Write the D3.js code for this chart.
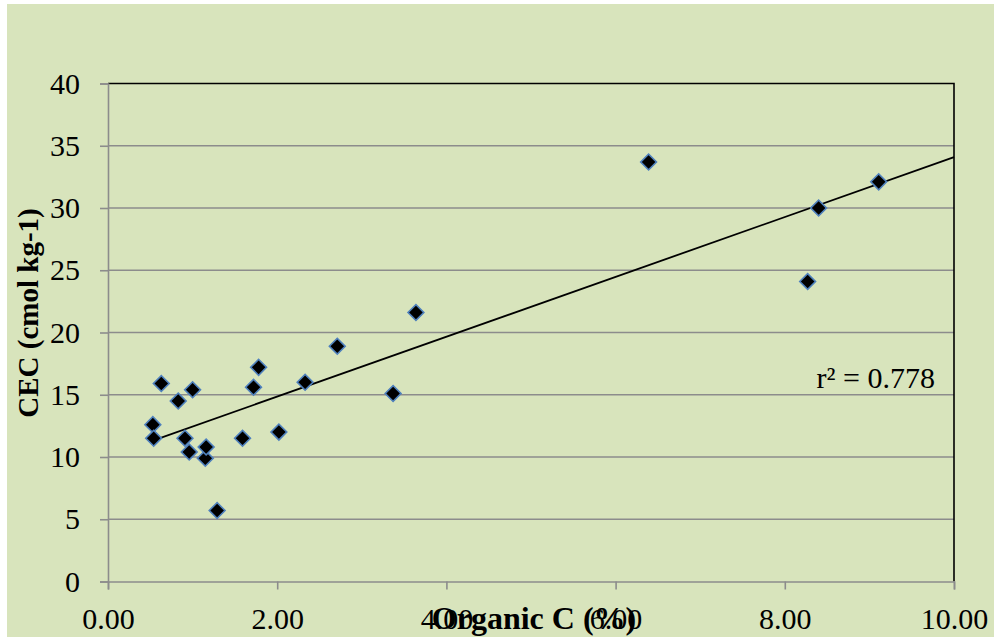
<!DOCTYPE html>
<html>
<head>
<meta charset="utf-8">
<script src="https://cdn.jsdelivr.net/npm/d3@7"></script>
<style>
  body { margin: 0; background: #fff; }
  svg { display: block; font-family: "Liberation Serif", "Times New Roman", serif; }
  .grid line { stroke: #8c8c8c; stroke-width: 1.6; }
  .axis path, .axis line { stroke: #8c8c8c; stroke-width: 1.6; }
  .axis text { font-family: "Liberation Serif", "Times New Roman", serif; font-size: 30px; fill: #000; }
</style>
</head>
<body>
<svg id="chart" width="994" height="637"></svg>
<script>
// Organic C (%) vs CEC (cmol kg-1)
const organicC = [0.53, 0.54, 0.63, 0.83, 0.91, 0.96, 1.00, 1.15, 1.16, 1.29, 1.59,
  1.72, 1.78, 2.02, 2.33, 2.71, 3.37, 3.64, 6.39, 8.27, 8.40, 9.11];
const cec = [12.6, 11.5, 15.9, 14.5, 11.5, 10.4, 15.4, 9.9, 10.8, 5.7, 11.5,
  15.6, 17.2, 12.0, 16.0, 18.9, 15.1, 21.6, 33.7, 24.1, 30.0, 32.1];
const xTicks = [0, 2, 4, 6, 8, 10];
const yTicks = [0, 5, 10, 15, 20, 25, 30, 35, 40];
const rSquaredLabel = "r² = 0.778";

const svg = d3.select("#chart");
const plotLeft = 108, plotRight = 954, plotTop = 83.5, plotBottom = 581.5;

const x = d3.scaleLinear().domain([0, 10]).range([plotLeft, plotRight]);
const y = d3.scaleLinear().domain([0, 40]).range([plotBottom, plotTop]);

// chart area background
svg.append("rect")
  .attr("x", 7).attr("y", 4)
  .attr("width", 987).attr("height", 633)
  .attr("fill", "#d8e4bc");

// horizontal gridlines
svg.append("g")
  .attr("class", "grid")
  .selectAll("line")
  .data(yTicks.filter((d) => d > 0 && d < 40))
  .join("line")
  .attr("x1", plotLeft).attr("x2", plotRight)
  .attr("y1", (d) => y(d)).attr("y2", (d) => y(d));

// plot area border (top and right are black)
svg.append("path")
  .attr("d", `M${plotLeft},${plotTop}H${plotRight}V${plotBottom}`)
  .attr("fill", "none")
  .attr("stroke", "#000")
  .attr("stroke-width", 1.6);

const xAxis = svg.append("g")
  .attr("class", "axis")
  .attr("transform", `translate(0,${plotBottom})`)
  .call(d3.axisBottom(x).tickValues(xTicks).tickFormat(d3.format(".2f")).tickSizeOuter(0).tickSize(8));
xAxis.selectAll("text").attr("dy", null).attr("y", 47);

const yAxis = svg.append("g")
  .attr("class", "axis")
  .attr("transform", `translate(${plotLeft},0)`)
  .call(d3.axisLeft(y).tickValues(yTicks).tickSizeOuter(0).tickSize(8).tickPadding(20));

// regression line from the data
const mx = d3.mean(organicC), my = d3.mean(cec);
const slope = d3.sum(organicC, (v, i) => (v - mx) * (cec[i] - my)) / d3.sum(organicC, (v) => (v - mx) ** 2);
const intercept = my - slope * mx;
const lineX = [d3.min(organicC), 10];

svg.append("path")
  .datum(lineX)
  .attr("fill", "none")
  .attr("stroke", "#000")
  .attr("stroke-width", 1.8)
  .attr("d", d3.line().x((d) => x(d)).y((d) => y(intercept + slope * d)));

// markers
const diamond = d3.symbol(d3.symbolSquare, 125);
svg.append("g")
  .selectAll("path")
  .data(organicC.map((v, i) => [v, cec[i]]))
  .join("path")
  .attr("d", diamond)
  .attr("transform", (d) => `translate(${x(d[0])},${y(d[1])}) rotate(45)`)
  .attr("fill", "#000")
  .attr("stroke", "#4f81bd")
  .attr("stroke-width", 1.6);

svg.append("text")
  .attr("x", 935).attr("y", 388)
  .attr("text-anchor", "end")
  .attr("font-size", 30)
  .text(rSquaredLabel);

// axis titles
svg.append("text")
  .attr("x", 534).attr("y", 629)
  .attr("text-anchor", "middle")
  .attr("font-size", 32)
  .attr("font-weight", "bold")
  .text("Organic C (%)");

svg.append("text")
  .attr("transform", "translate(38,313) rotate(-90)")
  .attr("text-anchor", "middle")
  .attr("font-size", 29)
  .attr("font-weight", "bold")
  .text("CEC (cmol kg-1)");
</script>
</body>
</html>
